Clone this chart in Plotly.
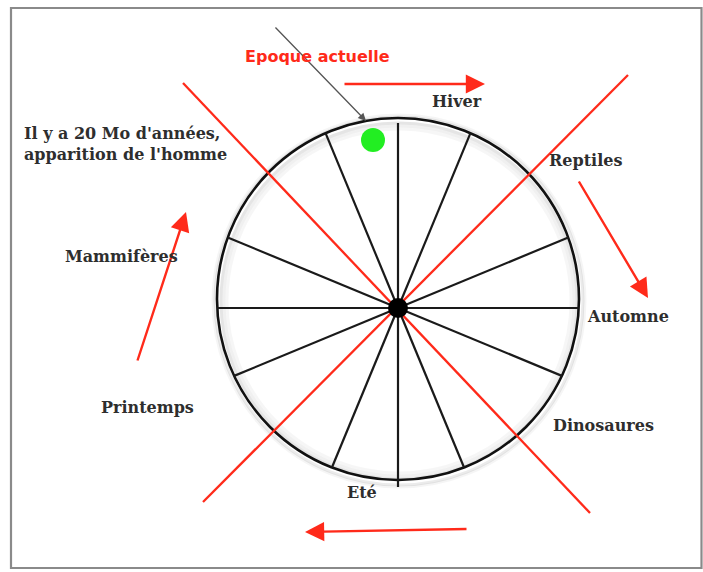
import math
import plotly.graph_objects as go

# ---- data ----
hub = (398, 308)
wheel_center = (398, 299)
wheel_radius = 181
spoke_angles = [0, 22.5, 67.5, 90, 112.5, 157.5, 180, 202.5, 247.5, 270, 292.5, 337.5]

red_lines = [((183, 83), (590, 513)), ((628, 75), (203, 502))]
red_arrows = [((343, 84), (485, 84)), ((578, 180), (648, 298)),
              ((468, 529), (305, 532)), ((137, 362), (186, 212))]

label_texts = ["Hiver", "Reptiles", "Automne", "Dinosaures", "Eté", "Printemps", "Mammifères"]
label_x = [457, 585, 628, 603, 362, 147, 121]
label_y = [101, 160, 316, 425, 492, 407, 256]

note_lines = ["Il y a 20 Mo d'années,", "apparition de l'homme"]
note_x = 22
note_y = 144

now_label = "Epoque actuelle"
now_dot = (373, 140)
pointer = ((274, 26), (366, 121))

RED = "#ff2a1a"
TXT = "#2e2e2e"

fig = go.Figure()
shapes = []
annotations = []

# frame
shapes.append(dict(type="rect", x0=11, y0=8, x1=701.5, y1=568,
                   line=dict(color="#8a8a8a", width=2.2), layer="below"))

# soft shadow rings
cx, cy = wheel_center
for dr, a in [(-3, 0.10), (-6, 0.06), (-9, 0.035), (3, 0.08), (5, 0.04)]:
    r = wheel_radius + dr
    shapes.append(dict(type="circle", x0=cx - r + 1, x1=cx + r + 1, y0=cy - r + 2, y1=cy + r + 2,
                       line=dict(color=f"rgba(0,0,0,{a})", width=3), layer="below"))

# wheel
shapes.append(dict(type="circle", x0=cx - wheel_radius, x1=cx + wheel_radius,
                   y0=cy - wheel_radius, y1=cy + wheel_radius,
                   line=dict(color="#111111", width=2.6)))

# spokes: from hub to wheel rim
hx, hy = hub
for ang in spoke_angles:
    dx, dy = math.cos(math.radians(ang)), -math.sin(math.radians(ang))
    ox, oy = hx - cx, hy - cy
    b = ox * dx + oy * dy
    c = ox * ox + oy * oy - wheel_radius ** 2
    t = -b + math.sqrt(b * b - c)
    if ang == 270:
        t += 7
    if ang == 90:
        t -= 5
    shapes.append(dict(type="line", x0=hx, y0=hy, x1=hx + dx * t, y1=hy + dy * t,
                       line=dict(color="#1a1a1a", width=2.2)))

# red diagonals
for (p0, p1) in red_lines:
    shapes.append(dict(type="line", x0=p0[0], y0=p0[1], x1=p1[0], y1=p1[1],
                       line=dict(color=RED, width=2.3)))

# hub dot
shapes.append(dict(type="circle", x0=hx - 10, x1=hx + 10, y0=hy - 10, y1=hy + 10,
                   fillcolor="#000000", line=dict(color="#000000", width=0)))

# green dot
gx, gy = now_dot
shapes.append(dict(type="circle", x0=gx - 12, x1=gx + 12, y0=gy - 12, y1=gy + 12,
                   fillcolor="#22ee22", line=dict(color="#22dd22", width=0)))

# red arrows
for (p0, p1) in red_arrows:
    annotations.append(dict(x=p1[0], y=p1[1], ax=p0[0], ay=p0[1], xref="x", yref="y",
                            axref="x", ayref="y", text="", showarrow=True,
                            arrowhead=2, arrowsize=1.6, arrowwidth=2.4, arrowcolor=RED))

# pointer
annotations.append(dict(x=pointer[1][0], y=pointer[1][1], ax=pointer[0][0], ay=pointer[0][1],
                        xref="x", yref="y", axref="x", ayref="y", text="", showarrow=True,
                        arrowhead=2, arrowsize=1.2, arrowwidth=1.3, arrowcolor="#555555"))

# labels
LBL_FONT = dict(family="DejaVu Serif", size=16, color=TXT)
for t, x, y in zip(label_texts, label_x, label_y):
    annotations.append(dict(x=x, y=y, xref="x", yref="y", text="<b>" + t + "</b>", showarrow=False,
                            xanchor="center", yanchor="middle", font=LBL_FONT))

annotations.append(dict(x=note_x, y=note_y, xref="x", yref="y",
                        text="<br>".join("<b>" + s + "</b>" for s in note_lines),
                        showarrow=False, xanchor="left", yanchor="middle", align="left",
                        font=LBL_FONT))

annotations.append(dict(x=317, y=56, xref="x", yref="y", text="<b>" + now_label + "</b>",
                        showarrow=False, xanchor="center", yanchor="middle",
                        font=dict(family="DejaVu Sans", size=16, color=RED)))

fig.update_layout(
    width=703, height=572, autosize=False,
    margin=dict(l=0, r=0, t=0, b=0),
    paper_bgcolor="white", plot_bgcolor="white",
    xaxis=dict(range=[0, 703], visible=False, fixedrange=True),
    yaxis=dict(range=[572, 0], visible=False, fixedrange=True),
    shapes=shapes, annotations=annotations, showlegend=False,
)
fig.write_html("out.html", config={"displayModeBar": False},
               post_script="document.body.style.margin='0';document.body.style.overflow='hidden';")
